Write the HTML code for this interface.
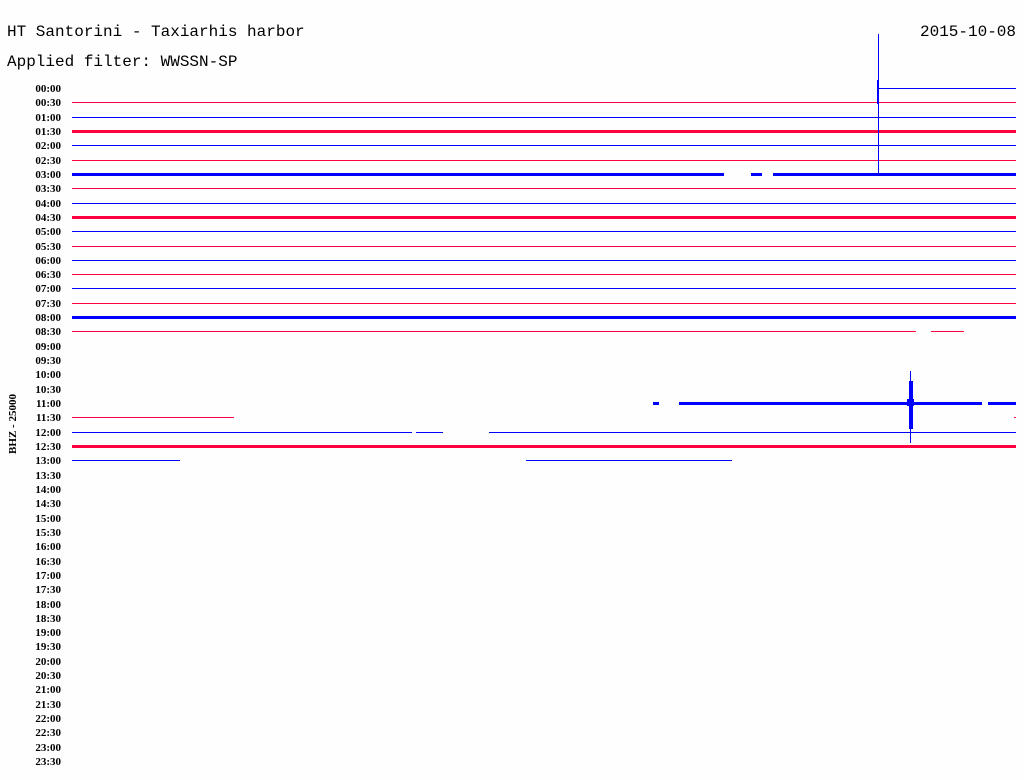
<!DOCTYPE html>
<html><head><style>
html,body{margin:0;padding:0;background:#fff;}
svg{display:block;}
.t{font-family:"Liberation Mono",monospace;font-size:16px;fill:#000;}
.l{font-family:"Liberation Serif",serif;font-size:11px;font-weight:bold;fill:#000;}
</style></head><body>
<svg width="1024" height="780" xmlns="http://www.w3.org/2000/svg" shape-rendering="crispEdges">
<rect width="1024" height="780" fill="#fefefe"/>
<text class="t" x="7" y="36">HT Santorini - Taxiarhis harbor</text>
<text class="t" x="1016" y="36" text-anchor="end">2015-10-08</text>
<text class="t" x="7" y="66">Applied filter: WWSSN-SP</text>
<text class="l" transform="translate(16,424) rotate(-90)" text-anchor="middle">BHZ - 25000</text>
<g id="labels"></g>
<g id="lines"></g>
<rect x="878" y="34" width="1" height="142" fill="#0000ff"/>
<rect x="877" y="80" width="2" height="24" fill="#0000ff"/>
<rect x="910" y="371" width="1" height="72" fill="#0000ff"/>
<rect x="909" y="381" width="4" height="48" fill="#0000ff"/>
<rect x="907" y="399" width="7" height="7" fill="#0000ff"/>
</svg>
<script>
var ns="http://www.w3.org/2000/svg",L=document.getElementById('labels'),G=document.getElementById('lines');
function y(i){return Math.round(88+i*14.32);}
for(var i=0;i<48;i++){
 var h=Math.floor(i/2),m=i%2?"30":"00";
 var t=document.createElementNS(ns,'text');t.setAttribute('class','l');
 t.setAttribute('x',61);t.setAttribute('y',y(i)+4);t.setAttribute('text-anchor','end');
 t.textContent=(h<10?"0":"")+h+":"+m;L.appendChild(t);
}
var thick={3:3,6:3,9:3,16:3,22:3,25:3};
var segs={0:[[878,1016]],6:[[72,724],[751,762],[773,1016]],17:[[72,916],[931,964]],
22:[[653,659],[679,982],[988,1016]],23:[[72,234],[1014,1016]],24:[[72,412],[416,443],[489,1016]],26:[[72,180],[526,732]]};
for(var i=0;i<=26;i++){
 if(i>=18&&i<=21)continue;
 var s=segs[i]||[[72,1016]];
 var c=i%2?"#ff0040":"#0000ff";
 var w=thick[i]||1;
 s.forEach(function(p){
  var r=document.createElementNS(ns,'rect');
  var yy=y(i);
  r.setAttribute('x',p[0]);r.setAttribute('width',p[1]-p[0]);
  r.setAttribute('y',yy-Math.floor(w/2));r.setAttribute('height',w);r.setAttribute('fill',c);
  G.appendChild(r);
 });
}
</script>
</body></html>
